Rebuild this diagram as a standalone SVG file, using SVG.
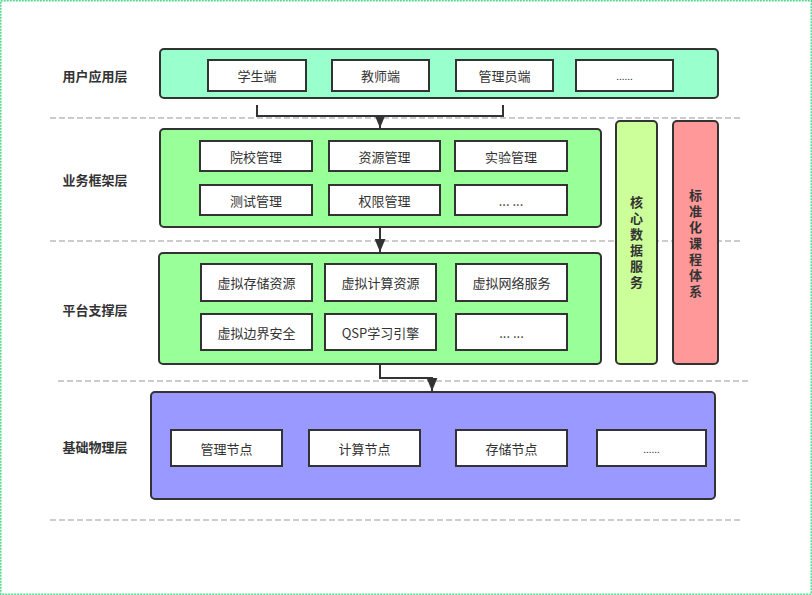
<svg xmlns="http://www.w3.org/2000/svg" width="812" height="595" viewBox="0 0 812 595">
<defs>
<style>
.frame{fill:none;stroke:#55d68f;stroke-width:1.5;stroke-dasharray:2 1}
.sep{stroke:#999;stroke-width:1;stroke-dasharray:6 3;fill:none}
.layer{stroke:#333;stroke-width:2}
.item{fill:#fff;stroke:#333;stroke-width:2}
.t{font-family:"Noto Sans CJK SC","Noto Sans",sans-serif;font-size:13px;fill:#333;text-anchor:middle;dominant-baseline:central}
.lbl{font-family:"Noto Sans CJK SC","Noto Sans",sans-serif;font-size:13px;font-weight:bold;fill:#333;text-anchor:middle;dominant-baseline:central}
.vlbl{font-family:"Noto Sans CJK SC","Noto Sans",sans-serif;font-size:13px;font-weight:bold;fill:#333;text-anchor:middle;writing-mode:vertical-rl;letter-spacing:3px}
.conn{fill:none;stroke:#333;stroke-width:2}
</style>
<marker id="ah" viewBox="0 0 12 10" refX="12" refY="5" markerWidth="6.5" markerHeight="5.5" orient="auto" markerUnits="strokeWidth">
<path d="M0,0 L12,5 L0,10 z" fill="#333"/>
</marker>
</defs>
<rect width="812" height="595" fill="#fff"/>
<rect class="frame" x="0.75" y="0.75" width="810.5" height="593.5"/>
<g id="separators">
<line class="sep" x1="50" y1="118" x2="740" y2="118"/>
<line class="sep" x1="50" y1="241" x2="740" y2="241"/>
<line class="sep" x1="58" y1="381" x2="748" y2="381"/>
<line class="sep" x1="50" y1="520" x2="740" y2="520"/>
</g>
<g id="labels">
<text class="lbl" x="95" y="75">用户应用层</text>
<text class="lbl" x="95" y="179">业务框架层</text>
<text class="lbl" x="95" y="309">平台支撑层</text>
<text class="lbl" x="95" y="446">基础物理层</text>
</g>
<g id="user-layer">
<rect class="layer" x="160" y="49" width="558" height="49" rx="4" fill="#99ffcc"/>
<rect class="item" x="208" y="60" width="98" height="31"/><text class="t" x="257" y="75.5">学生端</text>
<rect class="item" x="332" y="60" width="97" height="31"/><text class="t" x="380.5" y="75.5">教师端</text>
<rect class="item" x="456" y="60" width="97" height="31"/><text class="t" x="504.5" y="75.5">管理员端</text>
<rect class="item" x="576" y="60" width="97" height="31"/><text class="t" x="624.5" y="75.5" style="font-size:10px">......</text>
</g>
<g id="business-layer">
<rect class="layer" x="160" y="129" width="441" height="98" rx="4" fill="#99ff99"/>
<rect class="item" x="200" y="141" width="112" height="30"/><text class="t" x="256" y="156">院校管理</text>
<rect class="item" x="329" y="141" width="111" height="30"/><text class="t" x="384.5" y="156">资源管理</text>
<rect class="item" x="455" y="141" width="112" height="30"/><text class="t" x="511" y="156">实验管理</text>
<rect class="item" x="200" y="185" width="112" height="30"/><text class="t" x="256" y="200">测试管理</text>
<rect class="item" x="329" y="185" width="111" height="30"/><text class="t" x="384.5" y="200">权限管理</text>
<rect class="item" x="455" y="185" width="112" height="30"/><text class="t" x="511" y="200">... ...</text>
</g>
<g id="platform-layer">
<rect class="layer" x="159" y="253" width="442" height="111" rx="4" fill="#99ff99"/>
<rect class="item" x="201" y="264" width="111" height="37"/><text class="t" x="256.5" y="282.5">虚拟存储资源</text>
<rect class="item" x="325" y="264" width="111" height="37"/><text class="t" x="380.5" y="282.5">虚拟计算资源</text>
<rect class="item" x="456" y="264" width="111" height="37"/><text class="t" x="511.5" y="282.5">虚拟网络服务</text>
<rect class="item" x="201" y="314" width="111" height="36"/><text class="t" x="256.5" y="332">虚拟边界安全</text>
<rect class="item" x="325" y="314" width="111" height="36"/><text class="t" x="380.5" y="332">QSP学习引擎</text>
<rect class="item" x="456" y="314" width="111" height="36"/><text class="t" x="511.5" y="332">... ...</text>
</g>
<g id="physical-layer">
<rect class="layer" x="151" y="392" width="564" height="107" rx="4" fill="#9999ff"/>
<rect class="item" x="171" y="430" width="111" height="36"/><text class="t" x="226.5" y="448">管理节点</text>
<rect class="item" x="309" y="430" width="111" height="36"/><text class="t" x="364.5" y="448">计算节点</text>
<rect class="item" x="456" y="430" width="111" height="36"/><text class="t" x="511.5" y="448">存储节点</text>
<rect class="item" x="597" y="430" width="109" height="36"/><text class="t" x="651.5" y="448" style="font-size:10px">......</text>
</g>
<g id="core-data">
<rect class="layer" x="616" y="121" width="41" height="243" rx="4" fill="#ccff99"/>
<text class="vlbl" x="636.5" y="244">核心数据服务</text>
</g>
<g id="curriculum">
<rect class="layer" x="673" y="121" width="45" height="243" rx="4" fill="#ff9999"/>
<text class="vlbl" x="695.5" y="245">标准化课程体系</text>
</g>
<g id="connectors">
<polyline class="conn" points="257,105 257,116 503,116 503,105"/>
<line class="conn" x1="380" y1="116" x2="380" y2="128" marker-end="url(#ah)"/>
<line class="conn" x1="380" y1="227" x2="380" y2="252" marker-end="url(#ah)"/>
<polyline class="conn" points="380,364 380,378 432,378 432,391" marker-end="url(#ah)"/>
</g>
</svg>
